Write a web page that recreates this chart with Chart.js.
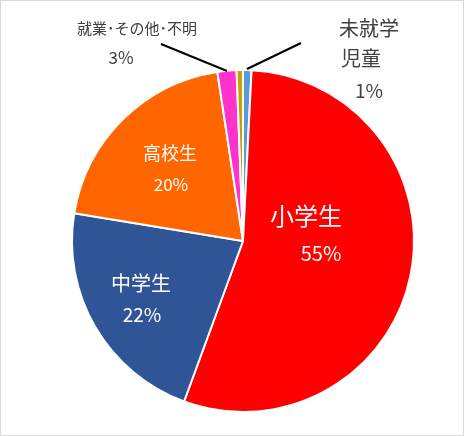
<!DOCTYPE html>
<html><head><meta charset="utf-8">
<script src="https://cdn.jsdelivr.net/npm/chart.js@4"></script>
<style>html,body{margin:0;padding:0;background:#fff}#w{position:relative;width:464px;height:436px;box-sizing:border-box;border:1px solid #d9d9d9}</style>
</head><body><div id="w"><canvas id="c" width="464" height="436"></canvas></div>
<script>
const categories = ['未就学児童','小学生','中学生','高校生','就業','その他・不明'];
const values = [0.8, 54.8, 22.0, 20.0, 1.8, 0.6];
const colors = ['#5B9BD5','#FF0000','#2F5597','#FF6600','#FF33CC','#C9A000'];
const labelLines = [
  {t:['未就学','児童','1%'], col:'#404040', size:[20,20,19], pos:[[368,27],[360,57],[368,90]]},
  {t:['小学生','55%'], col:'#fff', size:[24,20], pos:[[305,215],[320,252]]},
  {t:['中学生','22%'], col:'#fff', size:[20,19], pos:[[140,282],[141,314]]},
  {t:['高校生','20%'], col:'#fff', size:[18,17], pos:[[169,152],[170,184]]},
  {t:['就業･その他･不明','3%'], col:'#404040', size:[15,17], pos:[[136,27],[120,57]]}
];
const lbl = {id:'lbl', afterDraw(ch){
  const c=ch.ctx; c.save();
  c.strokeStyle='#000'; c.lineWidth=2;
  c.beginPath(); c.moveTo(160,43); c.lineTo(226,70); c.moveTo(300,42); c.lineTo(246,68); c.stroke();
  c.textAlign='center'; c.textBaseline='middle';
  labelLines.forEach(l=>{ l.t.forEach((s,i)=>{ c.fillStyle=l.col; c.font=l.size[i]+'px "Noto Sans CJK JP"'; c.fillText(s,l.pos[i][0],l.pos[i][1]); }); });
  c.restore();
}};
new Chart(document.getElementById('c'),{type:'pie',
 data:{labels:categories,datasets:[{data:values,backgroundColor:colors,borderColor:'#fff',borderWidth:2}]},
 options:{responsive:false,animation:false,layout:{padding:{left:70,right:50,top:68,bottom:24}},
  plugins:{legend:{display:false},tooltip:{enabled:false}}},
 plugins:[lbl]});
</script></body></html>
